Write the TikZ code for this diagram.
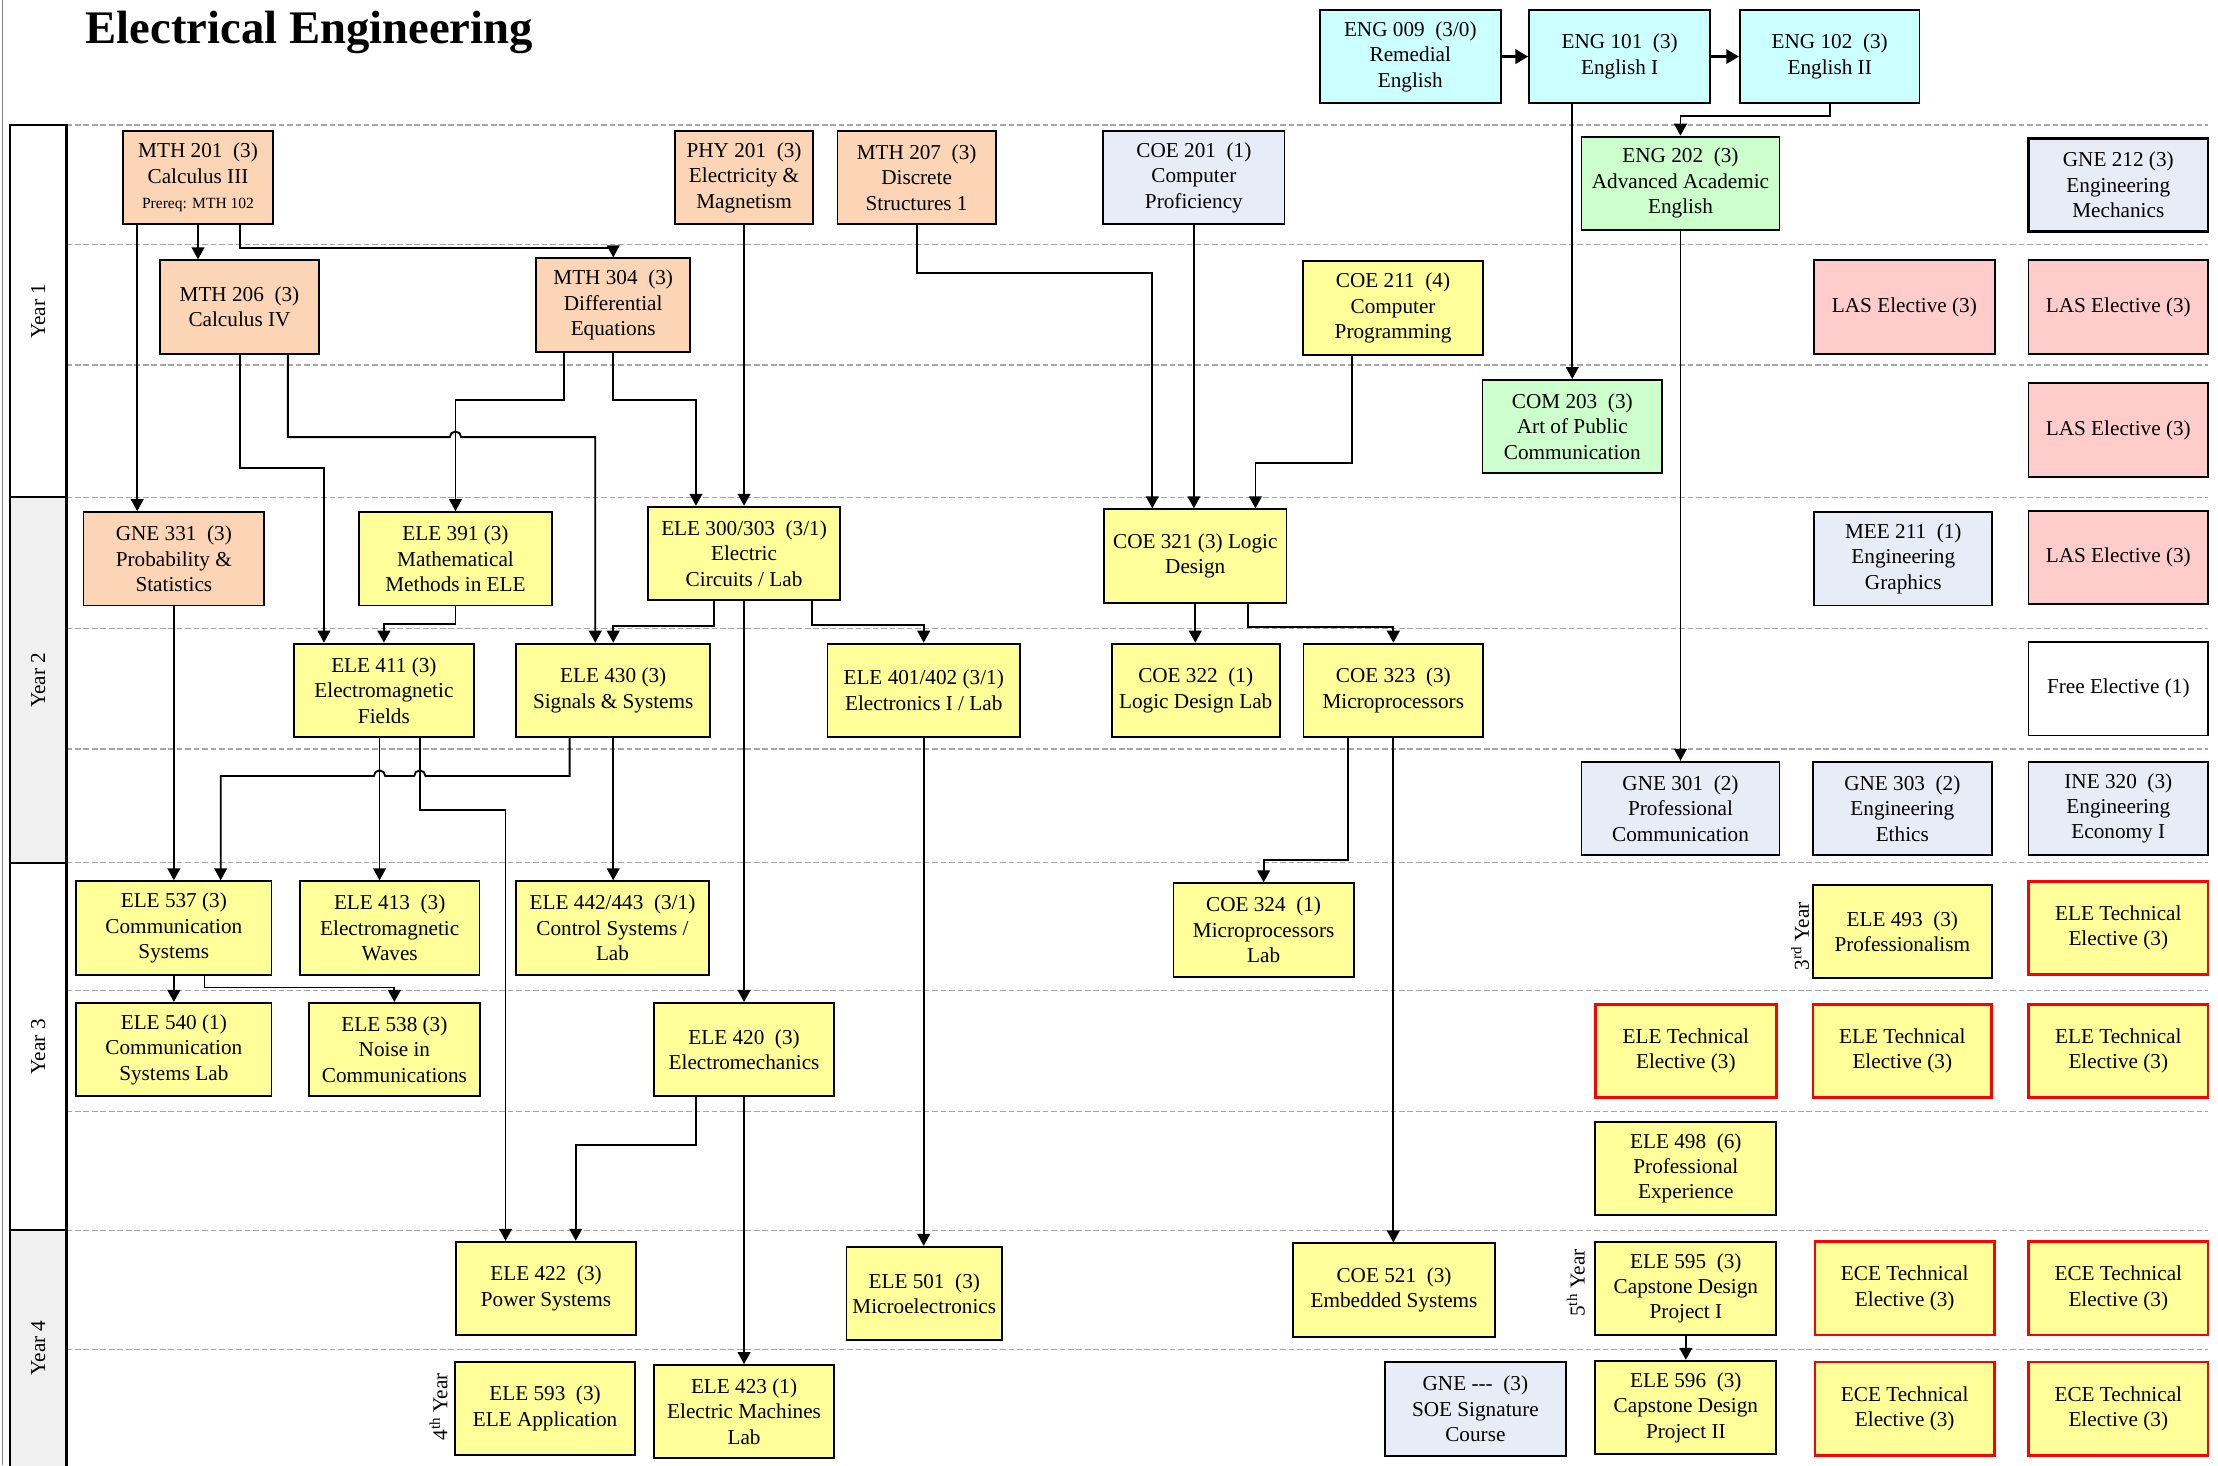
\documentclass[tikz,border=0pt]{standalone}
\usepackage{fontspec}
\setmainfont{Liberation Serif}
\usetikzlibrary{arrows.meta}
\definecolor{peach}{RGB}{251,213,181}
\definecolor{yel}{RGB}{255,255,153}
\definecolor{engcyan}{RGB}{204,255,255}
\definecolor{comgreen}{RGB}{204,255,204}
\definecolor{gnegrey}{RGB}{231,236,246}
\definecolor{laspink}{RGB}{255,204,204}
\definecolor{yeargrey}{RGB}{240,240,240}

\begin{document}
\begin{tikzpicture}[x=1pt, y=-1pt,
  box/.style={draw, line width=1.3pt, minimum width=128pt, minimum height=66pt, inner sep=1pt, align=center, font=\fontsize{15}{18}\selectfont},
  mth/.style={box, fill=peach},
  ele/.style={box, fill=yel},
  eng/.style={box, fill=engcyan},
  com/.style={box, fill=comgreen},
  gne/.style={box, fill=gnegrey},
  las/.style={box, fill=laspink},
  tech/.style={box, fill=yel, draw=red, line width=1.8pt},
  arr/.style={-{Triangle[length=8.5pt,width=9pt]}, line width=1.3pt},
  lane/.style={gray!70, line width=0.8pt, dash pattern=on 4pt off 2pt},
  yearlbl/.style={rotate=90, font=\fontsize{15}{18}\selectfont}
]
\useasboundingbox (0,0) rectangle (1568,1036);

\draw[gray, line width=0.6pt] (1.5,0) -- (1.5,1036);

\node[anchor=base west, font=\fontsize{33}{36}\selectfont\bfseries] (title) at (57,30.6) {Electrical Engineering};

% semester lines
\foreach \y in {88.4,173,258,351.5,444.5,529.5,610,700,786,869.6,953.7}
{
\draw[lane] (47,\y) -- (1561,\y);
}

% year bands
\foreach \ya/\yb/\c in {88.4/351.5/white, 351.5/610/yeargrey, 610/869.6/white, 869.6/1040/yeargrey}
{
\filldraw[fill=\c, draw=black, line width=1.5pt] (7,\ya) rectangle (47,\yb);
}
\node[yearlbl] (y1) at (27,220) {Year 1};
\node[yearlbl] (y2) at (27,481) {Year 2};
\node[yearlbl] (y3) at (27,740) {Year 3};
\node[yearlbl] (y4) at (27,953) {Year 4};

% english
\node[eng] (eng009) at (997,40) {ENG 009~~(3/0)\\Remedial\\English};
\node[eng] (eng101) at (1145,40) {ENG 101~~(3)\\English I};
\node[eng, minimum width=127pt] (eng102) at (1293.5,40) {ENG 102~~(3)\\English II};

% year 1
\node[mth, minimum width=106pt] (mth201) at (140,125.6) {MTH 201~~(3)\\Calculus III\\{\fontsize{11}{13}\selectfont Prereq: MTH 102}};
\node[mth, minimum width=98pt] (phy201) at (526,125.6) {PHY 201~~(3)\\Electricity \&\\Magnetism};
\node[mth, minimum width=112pt] (mth207) at (648,125.6) {MTH 207~~(3)\\Discrete\\Structures 1};
\node[gne] (coe201) at (844,125.6) {COE 201~~(1)\\Computer\\Proficiency};
\node[com, minimum width=140pt] (eng202) at (1188,129.6) {ENG 202~~(3)\\Advanced Academic\\English};
\node[gne, minimum width=127pt, line width=1.8pt] (gne212) at (1497.5,130.8) {GNE 212 (3)\\Engineering\\Mechanics};
\node[mth, minimum width=112.6pt] (mth206) at (169.3,217) {MTH 206~~(3)\\Calculus IV};
\node[mth, minimum width=109pt] (mth304) at (433.5,215.6) {MTH 304~~(3)\\Differential\\Equations};
\node[ele, minimum width=127.6pt] (coe211) at (984.8,217.8) {COE 211~~(4)\\Computer\\Programming};
\node[las, minimum width=127.5pt] (las1) at (1346.3,217) {LAS Elective (3)};
\node[las, minimum width=127pt] (las2) at (1497.5,217) {LAS Elective (3)};
\node[com, minimum width=127pt] (com203) at (1111.5,301.6) {COM 203~~(3)\\Art of Public\\Communication};
\node[las, minimum width=127pt] (las3) at (1497.5,304) {LAS Elective (3)};

% year 2
\node[mth, minimum width=127.8pt] (gne331) at (122.9,395) {GNE 331~~(3)\\Probability \&\\Statistics};
\node[ele, minimum width=136pt] (ele391) at (322,395) {ELE 391 (3)\\Mathematical\\Methods in ELE};
\node[ele, minimum width=136pt] (ele300) at (526,391.2) {ELE 300/303~~(3/1)\\Electric\\Circuits / Lab};
\node[ele, minimum width=129pt] (coe321) at (845,393) {COE 321 (3) Logic\\Design};
\node[gne, minimum width=126pt] (mee211) at (1345.5,395) {MEE 211~~(1)\\Engineering\\Graphics};
\node[las, minimum width=127pt] (las4) at (1497.5,394) {LAS Elective (3)};
\node[ele, minimum width=127pt] (ele411) at (271.4,488) {ELE 411 (3)\\Electromagnetic\\Fields};
\node[ele, minimum width=137pt] (ele430) at (433.5,488) {ELE 430 (3)\\Signals \& Systems};
\node[ele, minimum width=136pt] (ele401) at (653,488) {ELE 401/402 (3/1)\\Electronics I / Lab};
\node[ele, minimum width=118.6pt] (coe322) at (845.3,488) {COE 322~~(1)\\Logic Design Lab};
\node[ele, minimum width=127pt] (coe323) at (985,488) {COE 323~~(3)\\Microprocessors};
\node[box, fill=white, minimum width=127pt] (free) at (1497.5,487) {Free Elective (1)};
\node[gne, minimum width=140pt] (gne301) at (1188,571.5) {GNE 301~~(2)\\Professional\\Communication};
\node[gne, minimum width=126.4pt] (gne303) at (1344.8,571.5) {GNE 303~~(2)\\Engineering\\Ethics};
\node[gne, minimum width=127pt] (ine320) at (1497.5,571.5) {INE 320~~(3)\\Engineering\\Economy I};

% year 3
\node[ele, minimum width=138pt] (ele537) at (122.9,656) {ELE 537 (3)\\Communication\\Systems};
\node[ele, minimum width=127pt] (ele413) at (275.5,656) {ELE 413~~(3)\\Electromagnetic\\Waves};
\node[ele, minimum width=136pt] (ele442) at (433,656) {ELE 442/443~~(3/1)\\Control Systems /\\Lab};
\node[ele, minimum width=127.4pt] (coe324) at (893.3,657.4) {COE 324~~(1)\\Microprocessors\\Lab};
\node[ele, minimum width=126.4pt] (ele493) at (1344.8,658.6) {ELE 493~~(3)\\Professionalism};
\node[tech, minimum width=127pt] (te1) at (1497.5,656) {ELE Technical\\Elective (3)};
\node[ele, minimum width=138pt] (ele540) at (122.9,742) {ELE 540 (1)\\Communication\\Systems Lab};
\node[ele, minimum width=121pt] (ele538) at (278.8,742) {ELE 538 (3)\\Noise in\\Communications};
\node[ele, minimum width=127.3pt] (ele420) at (526,742) {ELE 420~~(3)\\Electromechanics};
\node[tech] (te2) at (1191.8,743) {ELE Technical\\Elective (3)};
\node[tech, minimum width=126.5pt] (te3) at (1344.8,743) {ELE Technical\\Elective (3)};
\node[tech, minimum width=127pt] (te4) at (1497.5,743) {ELE Technical\\Elective (3)};
\node[ele] (ele498) at (1191.8,826) {ELE 498~~(6)\\Professional\\Experience};

% year 4
\node[ele, minimum width=127pt] (ele422) at (386,910.8) {ELE 422~~(3)\\Power Systems};
\node[ele, minimum width=110pt] (ele501) at (653.4,914.4) {ELE 501~~(3)\\Microelectronics};
\node[ele, minimum width=143pt] (coe521) at (985.5,912) {COE 521~~(3)\\Embedded Systems};
\node[ele] (ele595) at (1191.8,910.8) {ELE 595~~(3)\\Capstone Design\\Project I};
\node[tech, minimum width=127pt] (ece1) at (1346.5,910.8) {ECE Technical\\Elective (3)};
\node[tech, minimum width=127pt] (ece2) at (1497.5,910.8) {ECE Technical\\Elective (3)};
\node[ele, minimum width=127.5pt] (ele593) at (385.3,995.7) {ELE 593~~(3)\\ELE Application};
\node[ele, minimum width=127.3pt] (ele423) at (526,998) {ELE 423 (1)\\Electric Machines\\Lab};
\node[gne] (gne000) at (1043,996) {GNE -{}-{}-~~(3)\\SOE Signature\\Course};
\node[ele] (ele596) at (1191.8,995) {ELE 596~~(3)\\Capstone Design\\Project II};
\node[tech, minimum width=127pt] (ece3) at (1346.5,996) {ECE Technical\\Elective (3)};
\node[tech, minimum width=127pt] (ece4) at (1497.5,996) {ECE Technical\\Elective (3)};

\node[yearlbl] (yr3) at (1272.5,662) {3\textsuperscript{rd} Year};
\node[yearlbl] (yr4) at (310,994.5) {4\textsuperscript{th} Year};
\node[yearlbl] (yr5) at (1114,907) {5\textsuperscript{th} Year};

% prerequisites
\draw[arr, line width=2pt, -{Triangle[length=9pt,width=10pt]}] (eng009) -- (eng101);
\draw[arr, line width=2pt, -{Triangle[length=9pt,width=10pt]}] (eng101) -- (eng102);
\draw[arr] (eng102.south) -- ++(0,8.3) -| (eng202.north);
\draw[arr] (eng101.south -| com203.north) -- (com203.north);
\draw[arr] (eng202.south) -- (gne301.north);

\draw[arr] (mth201.south -| 97,0) -- (gne331.north -| 97,0);
\draw[arr] (mth201.south -| 140,0) -- (mth206.north -| 140,0);
\draw[arr] (mth201.south -| 169.5,0) -- ++(0,16) -| (mth304.north);
\draw[arr] (mth206.south -| 169.5,0) -- ++(0,80) -| (ele411.north -| 229,0);
\draw[arr] (mth206.south -| 203.5,0) |- (318,309) arc[start angle=180, end angle=360, radius=4] -| (ele430.north -| 420.8,0);
\draw[arr] (mth304.south -| 398.7,0) -- ++(0,33.4) -| (ele391.north);
\draw[arr] (mth304.south) -- ++(0,33.4) -| (ele300.north -| 492,0);
\draw[arr] (phy201.south) -- (ele300.north);
\draw[arr] (mth207.south) -- ++(0,34) -| (coe321.north -| 814.6,0);
\draw[arr] (coe201.south) -- (coe321.north -| coe201.south);
\draw[arr] (coe211.south -| 955.5,0) -- ++(0,75.8) -| (coe321.north -| 887.5,0);

\draw[arr] (gne331.south) -- (ele537.north -| gne331.south);
\draw[arr] (ele391.south) -- ++(0,12.7) -| (ele411.north);
\draw[arr] (ele300.south -| 504.6,0) -- ++(0,17.6) -| (ele430.north);
\draw[arr] (ele300.south) -- (ele420.north);
\draw[arr] (ele300.south -| 574,0) -- ++(0,16.8) -| (ele401.north);
\draw[arr] (coe321.south) -- (coe322.north -| coe321.south);
\draw[arr] (coe321.south -| 882,0) -- ++(0,16.7) -| (coe323.north);

\draw[arr] (ele411.south -| 268.3,0) -- (ele413.north -| 268.3,0);
\draw[arr] (ele411.south -| 296.8,0) -- ++(0,51) -| (ele422.north -| 357.4,0);
\draw[arr] (ele430.south -| 402.7,0) |- (300.8,548.6) arc[start angle=0, end angle=-180, radius=4] -- (272.3,548.6) arc[start angle=0, end angle=-180, radius=4] -| (ele537.north -| 156,0);
\draw[arr] (ele430.south) -- (ele442.north -| ele430.south);
\draw[arr] (ele401.south) -- (ele501.north -| ele401.south);
\draw[arr] (coe323.south -| 953,0) -- ++(0,86.3) -| (coe324.north);
\draw[arr] (coe323.south) -- (coe521.north -| coe323.south);

\draw[arr] (ele537.south) -- (ele540.north -| ele537.south);
\draw[arr] (ele537.south -| 144.6,0) -- ++(0,8.5) -| (ele538.north);
\draw[arr] (ele420.south -| 492,0) -- ++(0,33.8) -| (ele422.north -| 407,0);
\draw[arr] (ele420.south) -- (ele423.north);
\draw[arr] (ele595.south) -- (ele596.north -| ele595.south);

\end{tikzpicture}
\end{document}
